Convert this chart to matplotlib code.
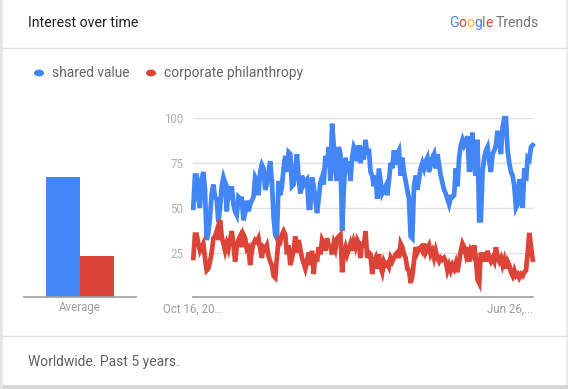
import matplotlib.pyplot as plt
from matplotlib.patches import Rectangle

# ── Data (weekly-ish samples) ──
shared_value = [
    50, 68, 68, 55, 50, 66, 70, 60, 32, 36, 45, 58, 63, 56, 55, 42, 50, 62, 67, 64,
    48, 60, 58, 62, 52, 48, 46, 56, 55, 55, 43, 47, 54, 48, 52, 54, 56, 67, 65, 57,
    70, 74, 72, 60, 63, 70, 76, 65, 45, 35, 33, 65, 57, 62, 72, 79, 70, 81, 80, 62,
    63, 72, 80, 67, 58, 68, 63, 65, 66, 50, 50, 67, 62, 55, 47, 55, 64, 67, 63, 79,
    73, 84, 65, 97, 85, 70, 65, 84,
    80, 37, 60, 78, 70, 76, 65, 78, 84, 82, 76, 85, 75, 80, 77, 88, 80, 83, 70, 68,
    62, 68, 55, 72, 65, 58, 60, 62, 57, 65, 75, 72, 82, 74, 80, 82, 68, 78, 70, 65,
    60, 55, 34, 33, 62, 68, 60, 66, 72, 75, 72, 76, 78, 70, 74, 78, 80, 72, 80, 74,
    68, 64, 60, 58, 55, 52, 56, 56, 57, 72, 62, 78, 85, 88, 85, 87, 90, 70, 80, 92,
    72, 68, 88, 43, 43, 70, 78, 82, 84, 76, 70, 80, 82, 85, 93, 87, 80, 95, 100, 100,
    82, 75, 70, 68, 62, 50, 52, 66, 62, 50, 72, 65, 78, 77, 84, 85,
]
corporate_philanthropy = [
    22, 35, 35, 30, 26, 28, 30, 22, 15, 16, 20, 25, 33, 34, 37, 32, 43, 34, 30, 26,
    30, 27, 32, 37, 30, 20, 28, 32, 34, 28, 35, 33, 27, 28, 18, 26, 30, 32, 31, 33,
    27, 22, 28, 27, 29, 23, 20, 18, 12, 11, 22, 32, 31, 35, 37, 35, 24, 29, 18, 22,
    26, 34, 25, 32, 27, 22, 19, 16, 20, 25, 18, 26, 13, 24, 20, 28, 24, 32, 30, 26,
    33, 29, 28, 24, 30, 27, 33, 34,
    35, 14, 25, 28, 24, 27, 30, 26, 31, 28, 32, 30, 22, 31, 28, 37, 22, 25, 24, 13,
    20, 22, 16, 24, 17, 14, 20, 18, 19, 17, 22, 20, 22, 24, 25, 22, 30, 28, 24, 22,
    16, 15, 8, 12, 20, 28, 25, 27, 28, 26, 30, 25, 27, 29, 24, 26, 22, 26, 22, 20,
    22, 21, 22, 20, 15, 18, 15, 18, 16, 19, 14, 20, 26, 30, 28, 24, 28, 20, 26, 24,
    29, 22, 10, 8, 25, 20, 25, 20, 26, 22, 20, 22, 20, 28, 22, 20, 22, 18, 21, 16,
    20, 18, 14, 12, 15, 12, 13, 11, 13, 12, 14, 15, 25, 36, 28, 21,
]
averages = [67, 23]
series_names = ['shared value', 'corporate philanthropy']
y_ticks = [25, 50, 75, 100]
x_labels = ['Oct 16, 20...', 'Jun 26,...']

BLUE = '#4285F4'
RED = '#DB4437'
W, H = 568, 389

plt.rcParams['font.family'] = ['Roboto', 'DejaVu Sans']

fig = plt.figure(figsize=(W / 100, H / 100), dpi=100, facecolor='white')


def fx(x):
    return x / W


def fy(y):
    return 1 - y / H


# ── Card frame ──
fig.patches.append(Rectangle((0, 0), fx(3), 1, transform=fig.transFigure,
                             facecolor='#e6e6e6', edgecolor='none', zorder=0))
fig.patches.append(Rectangle((fx(566), 0), fx(2), 1, transform=fig.transFigure,
                             facecolor='#ececec', edgecolor='none', zorder=0))
fig.patches.append(Rectangle((fx(3), fy(389)), fx(565), fy(385) - fy(389),
                             transform=fig.transFigure, facecolor='#d6d6d6',
                             edgecolor='none', zorder=0))
fig.lines.append(plt.Line2D([fx(3), fx(566)], [fy(48), fy(48)], transform=fig.transFigure,
                            color='#e0e0e0', lw=1))
fig.lines.append(plt.Line2D([fx(3), fx(566)], [fy(336), fy(336)], transform=fig.transFigure,
                            color='#e0e0e0', lw=1))

# ── Header ──
fig.text(fx(28), fy(23), 'Interest over time', fontsize=10.2, color='#212121',
         va='center', ha='left')

renderer = fig.canvas.get_renderer()
x_cur = fx(449)
for ch, col in zip('Google', [BLUE, '#EA4335', '#FBBC05', BLUE, '#34A853', '#EA4335']):
    t = fig.text(x_cur, fy(23), ch, fontsize=10.1, color=col, va='center', ha='left')
    bb = t.get_window_extent(renderer)
    x_cur += bb.width / W
fig.text(x_cur + fx(2.5), fy(23), 'Trends', fontsize=10.1, color='#757575',
         va='center', ha='left')

# ── Legend ──
legend_pos = [39, 151]
for name, col, xp in zip(series_names, [BLUE, RED], legend_pos):
    fig.patches.append(plt.Circle((fx(xp), fy(73)), radius=fx(5), transform=fig.transFigure,
                                  facecolor=col, edgecolor='none'))
    fig.text(fx(xp + 13), fy(73), name, fontsize=9.9, color='#666666',
             va='center', ha='left')

# ── Average bars ──
y_top, y_bot = 118.3, 297.3
axb = fig.add_axes([fx(24), fy(y_bot), fx(112), (y_bot - y_top) / H])
axb.bar([0, 1], averages, width=1.0, color=[BLUE, RED])
axb.set_xlim(-1.135, 2.14)
axb.set_ylim(0, 100)
axb.axis('off')
axb.axhline(0, color='#9e9e9e', lw=1.2, clip_on=False)
fig.text(fx(80), fy(308), 'Average', fontsize=8.3, color='#9e9e9e', ha='center', va='center')

# ── Line chart ──
axl = fig.add_axes([fx(193.3), fy(y_bot), fx(339.4), (y_bot - y_top) / H])
idx = list(range(len(shared_value)))
axl.plot(idx, shared_value, color=BLUE, lw=3.4, solid_joinstyle='miter', clip_on=False)
axl.plot(idx, corporate_philanthropy, color=RED, lw=3.4, solid_joinstyle='miter',
         clip_on=False)
axl.set_xlim(0, len(idx) - 1)
axl.set_ylim(0, 100)
for s in axl.spines.values():
    s.set_visible(False)
axl.set_yticks(y_ticks)
axl.set_xticks([])
axl.grid(axis='y', color='#e0e0e0', lw=1)
axl.set_axisbelow(True)
axl.axhline(0, color='#9e9e9e', lw=1.2, clip_on=False)
axl.tick_params(axis='y', length=0, pad=7, labelsize=8.3, labelcolor='#b0b0b0')
for lab in axl.get_yticklabels():
    lab.set_fontfamily(['Roboto', 'DejaVu Sans'])

fig.text(fx(163), fy(309), x_labels[0], fontsize=8.3, color='#9e9e9e', ha='left', va='center')
fig.text(fx(533), fy(309), x_labels[1], fontsize=8.3, color='#9e9e9e', ha='right', va='center')

# ── Footer ──
fig.text(fx(28), fy(362), 'Worldwide. Past 5 years.', fontsize=10, color='#616161',
         va='center', ha='left')

plt.savefig('out.png', dpi=100, facecolor='white')
